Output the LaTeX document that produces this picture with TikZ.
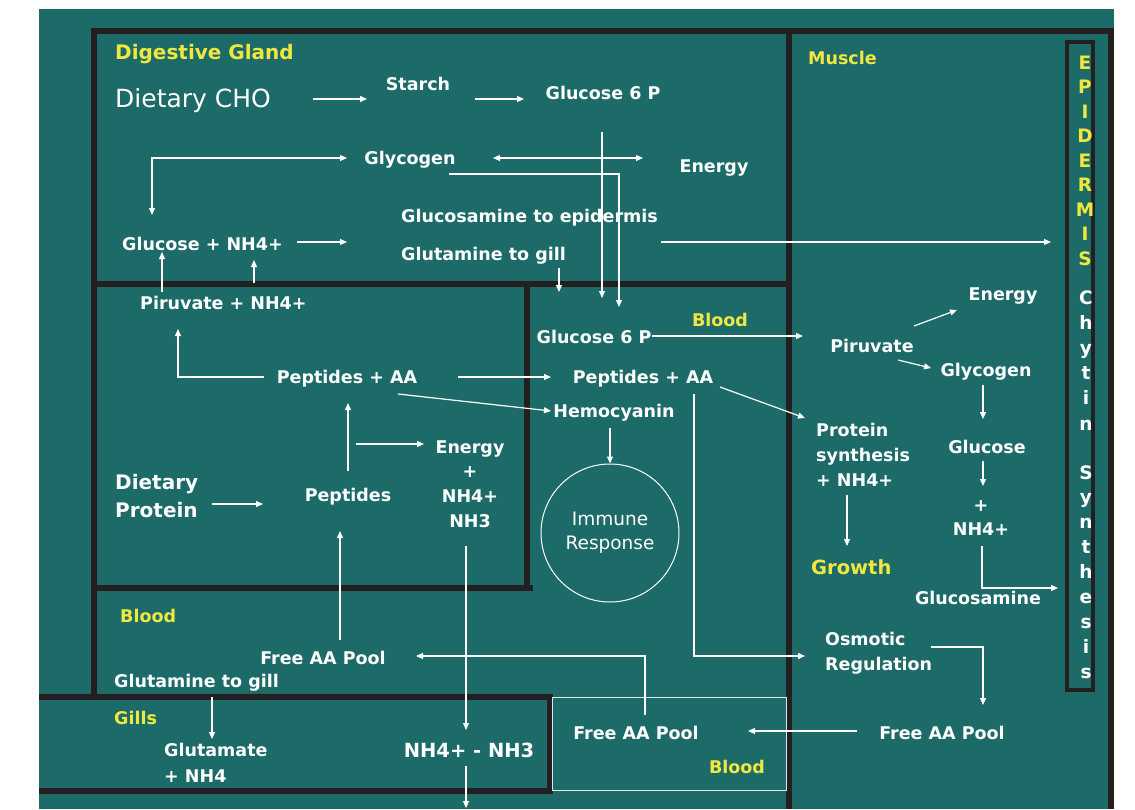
\documentclass[tikz,border=0pt]{standalone}
\usepackage{fontspec}
\setmainfont{DejaVu Sans}
\usetikzlibrary{arrows.meta,calc}
\definecolor{dgTeal}{RGB}{29,107,105}
\definecolor{dgWall}{RGB}{35,31,32}
\definecolor{dgYellow}{RGB}{240,232,64}
\tikzset{
  dglab/.style={text=white, font=\fontsize{17.5}{21}\selectfont\bfseries, inner sep=0pt},
  dgtitle/.style={text=dgYellow, font=\fontsize{17.5}{21}\selectfont\bfseries, inner sep=0pt},
  dgplain/.style={text=white, font=\fontsize{18.5}{24}\selectfont, inner sep=0pt},
  dgletter/.style={font=\fontsize{18.5}{20}\selectfont\bfseries, anchor=base, inner sep=0pt},
  dgwall/.style={draw=dgWall, line width=6pt},
  dgarr/.style={draw=white, line width=1.2pt, -{Triangle[length=7pt,width=6pt]}},
  dgboth/.style={dgarr, {Triangle[length=7pt,width=6pt]}-{Triangle[length=7pt,width=6pt]}},
}

\begin{document}
\begin{tikzpicture}[x=1pt,y=-1pt]
  \useasboundingbox (0,0) rectangle (1135,809);
  \fill[white] (0,0) rectangle (1135,809);
  \fill[dgTeal] (39,9) rectangle (1114,809);

  % compartments
  \draw[dgwall] (94,697) -- (94,31) -- (1114,31);
  \draw[dgwall] (1111,31) -- (1111,809);
  \draw[dgwall] (789,31) -- (789,809);
  \draw[dgwall] (94,284) -- (789,284);
  \draw[dgwall] (527,284) -- (527,588);
  \draw[dgwall] (94,588) -- (533,588);
  \draw[dgwall] (39,697) -- (550,697) -- (550,791) -- (39,791);
  \draw[white!80!gray, line width=1pt] (552,697) rectangle (786,790);
  \node[draw=dgWall, line width=4pt, minimum width=26pt, minimum height=648pt, inner sep=0pt] (epi) at (1080,366) {};

  % digestive gland
  \node[dgtitle, font=\fontsize{20}{24}\selectfont\bfseries, anchor=west] (dg) at (115,54) {Digestive Gland};
  \node[dgplain, font=\fontsize{25}{28}\selectfont, anchor=west] (cho) at (115,101) {Dietary CHO};
  \node[dglab] (starch) at (418,84) {Starch};
  \node[dglab] (g6pdg) at (603,93) {Glucose 6 P};
  \node[dglab] (glyc) at (410,160) {Glycogen};
  \node[dglab] (endg) at (714,168) {Energy};
  \node[dglab, anchor=west] (glcnh) at (122,244) {Glucose + NH4+};
  \node[dglab, anchor=west] (gepi) at (401,218) {Glucosamine to epidermis};
  \node[dglab, anchor=west] (ggill) at (401,256) {Glutamine to gill};
  \node[dglab, anchor=west] (piru) at (140,303) {Piruvate + NH4+};
  \node[dglab] (pepaa) at (347,379) {Peptides + AA};
  \node[dglab, anchor=west, align=left, font=\fontsize{20}{28}\selectfont\bfseries] (dprot) at (115,496) {Dietary\\Protein};
  \node[dglab] (pept) at (348,497) {Peptides};
  \node[dglab, align=center, font=\fontsize{17.5}{24.7}\selectfont\bfseries] (enp) at (470,484) {Energy\\+\\NH4+\\NH3};

  % blood and gills
  \node[dgtitle, anchor=west] (bloodL) at (120,616) {Blood};
  \node[dglab] (faaL) at (323,658) {Free AA Pool};
  \node[dglab, anchor=west] (gtgL) at (114,683) {Glutamine to gill};
  \node[dgtitle, anchor=west] (gills) at (114,718) {Gills};
  \node[dglab, anchor=west, align=left, font=\fontsize{17.5}{26}\selectfont\bfseries] (glut) at (164,763) {Glutamate\\+ NH4};
  \node[dglab, font=\fontsize{19.5}{24}\selectfont\bfseries] (nh) at (469,750) {NH4+ - NH3};
  \node[dgtitle] (bloodM) at (720,320) {Blood};
  \node[dglab] (g6pb) at (594,337) {Glucose 6 P};
  \node[dglab] (pepaaB) at (643,379) {Peptides + AA};
  \node[dglab] (hemo) at (614,413) {Hemocyanin};
  \node[dgplain, circle, draw=white, line width=1pt, minimum size=138pt, align=center] (imm) at (610,533) {Immune\\Response};
  \node[dglab] (faaM) at (636,733) {Free AA Pool};
  \node[dgtitle] (bloodB) at (737,767) {Blood};

  % muscle
  \node[dgtitle, anchor=west] (muscle) at (808,58) {Muscle};
  \node[dglab] (enM) at (1003,296) {Energy};
  \node[dglab] (piruM) at (872,346) {Piruvate};
  \node[dglab] (glycM) at (986,372) {Glycogen};
  \node[dglab] (glcM) at (987,447) {Glucose};
  \node[dglab, align=center, font=\fontsize{17.5}{24}\selectfont\bfseries] (nhM) at (981,518) {+\\NH4+};
  \node[dglab] (gsam) at (978,598) {Glucosamine};
  \node[dglab, anchor=west, align=left, font=\fontsize{17.5}{25}\selectfont\bfseries] (psyn) at (816,455) {Protein\\synthesis\\+ NH4+};
  \node[dgtitle, font=\fontsize{19.5}{22}\selectfont\bfseries, anchor=west] (growth) at (811,567) {Growth};
  \node[dglab, anchor=west, align=left, font=\fontsize{17.5}{25}\selectfont\bfseries] (osm) at (825,653.5) {Osmotic\\Regulation};
  \node[dglab] (faaR) at (942,733) {Free AA Pool};

  % epidermis
  \foreach \ch [count=\k from 0] in {E,P,I,D,E,R,M,I,S}
    \node[dgletter, text=dgYellow] (epiA\k) at (1085,{69+24.5*\k}) {\ch};
  \foreach \ch [count=\k from 0] in {C,h,y,t,i,n}
    \node[dgletter, text=white] (epiB\k) at (1086,{304+25.2*\k}) {\ch};
  \foreach \ch [count=\k from 0] in {S,y,n,t,h,e,s,i,s}
    \node[dgletter, text=white] (epiC\k) at (1086,{479+24.9*\k}) {\ch};

  % connectors
  \draw[dgarr] ($(cho.west)+(198,-2)$) -- ++(54,0);
  \draw[dgarr] ($(starch)+(57,15)$) -- ++(49,0);
  \draw[dgboth] ($(glcnh.west)+(30,-29)$) |- ($(glyc)+(-63,-2)$);
  \draw[dgboth] ($(glyc)+(83,-2)$) -- ++(150,0);
  \draw[dgarr] ($(g6pdg)+(-1,39)$) -- ++(0,166);
  \draw[dgarr] ($(glyc)+(39,14)$) -| ($(g6pb)+(25,-30)$);
  \draw[dgarr] ($(glcnh.west)+(175,-2)$) -- ++(50,0);
  \draw[dgarr] ($(ggill.west)+(158,12)$) -- ++(0,24);
  \draw[dgarr] ($(gepi.west)+(260,24)$) -- ++(390,0);
  \draw[dgarr] ($(piru.west)+(22,-11)$) -- ++(0,-40);
  \draw[dgarr] ($(piru.west)+(114,-20)$) -- ++(0,-23);
  \draw[dgarr] ($(pepaa)+(-83,-2)$) -| ($(piru.west)+(38,26)$);
  \draw[dgarr] ($(pepaa)+(111,-2)$) -- ++(93,0);
  \draw[dgarr] ($(pepaa)+(51,15)$) -- ($(hemo)+(-63,-2)$);
  \draw[dgarr] ($(pept)+(0,-26)$) -- ($(pepaa)+(1,24)$);
  \draw[dgarr] ($(pept)+(8,-53)$) -- ++(68,0);
  \draw[dgarr] ($(dprot.west)+(97,8)$) -- ++(51,0);
  \draw[dgarr] ($(faaL)+(17,-18)$) -- ($(pept)+(-8,34)$);
  \draw[dgarr] ($(enp)+(-4,62)$) -- ($(nh)+(-3,-20)$);
  \draw[dgarr] ($(nh)+(-3,16)$) -- ++(0,42);
  \draw[dgarr] ($(gtgL.west)+(98,14)$) -- ++(0,42);
  \draw[dgarr] ($(g6pb)+(58,-1)$) -- ++(151,0);
  \draw[dgarr] ($(pepaaB)+(77,8)$) -- ($(psyn.west)+(-11,-37)$);
  \draw[dgarr] ($(pepaaB)+(51,15)$) |- ($(osm.west)+(-20,2.5)$);
  \draw[dgarr] ($(faaM)+(9,-18)$) |- ($(faaL)+(93,-2)$);
  \draw[dgarr] ($(hemo)+(-4,15)$) -- (imm.north);
  \draw[dgarr] ($(faaR)+(-85,-2)$) -- ($(faaM)+(112,-2)$);
  \draw[dgarr] ($(osm.west)+(106,-6.5)$) -| ($(faaR)+(41,-28)$);
  \draw[dgarr] ($(piruM)+(42,-20)$) -- ($(enM)+(-46,14)$);
  \draw[dgarr] ($(piruM)+(26,14)$) -- ($(glycM)+(-55,-4)$);
  \draw[dgarr] ($(glycM)+(-3,13)$) -- ($(glcM)+(-4,-28)$);
  \draw[dgarr] ($(glcM)+(-4,14)$) -- ++(0,25);
  \draw[dgarr] ($(nhM)+(1,28)$) |- ($(gsam)+(80,-10)$);
  \draw[dgarr] ($(psyn.west)+(31,40)$) -- ($(growth.west)+(36,-21)$);
\end{tikzpicture}
\end{document}
